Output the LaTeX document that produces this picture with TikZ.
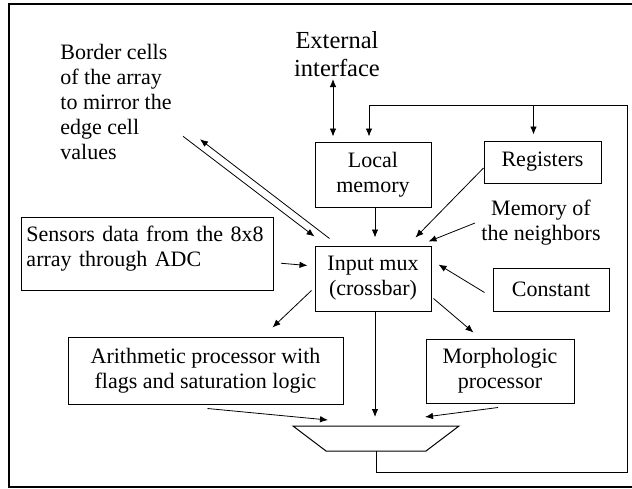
\documentclass[tikz,border=0pt]{standalone}
\usepackage{fontspec}
\setmainfont{Liberation Serif}
\usetikzlibrary{arrows.meta}
\tikzset{>={Latex[length=8pt,width=6.5pt]}}
\tikzset{blk/.style={draw, line width=1pt, align=center, inner sep=0pt}}
\tikzset{txt/.style={align=center, inner sep=0pt}}

\begin{document}
\begin{tikzpicture}[x=1pt, y=-1pt, line width=0.8pt, font=\fontsize{22}{25}\selectfont]
\useasboundingbox (0,0) rectangle (632,488);
\draw[line width=2pt] (632,4.3) -| (9,487) -- (632,487);

\node[txt, font=\fontsize{24.5}{28}\selectfont] (ext) at (337,54) {External\\interface};
\node[txt, align=left, anchor=north west] (brd) at (60,44) {Border cells\\of the array\\to mirror the\\edge cell\\values};
\node[txt] (mem) at (541,223) {Memory of\\the neighbors};

\node[blk, minimum width=116pt, minimum height=65pt] (lm) at (373,174.5) {Local\\memory};
\node[blk, minimum width=117pt, minimum height=42pt] (reg) at (542.5,162) {Registers};
\node[blk, minimum width=116pt, minimum height=65pt] (mux) at (373,278.5) {Input mux\\(crossbar)};
\node[blk, minimum width=116pt, minimum height=43pt] (cst) at (551,289.5) {Constant};
\node[blk, minimum width=148pt, minimum height=64pt] (morph) at (500,371) {Morphologic\\processor};
\node[blk, minimum width=275pt, minimum height=67pt] (arith) at (205.5,370.5) {Arithmetic processor with\\flags and saturation logic};
\node[blk, align=left, anchor=north west, text width=242pt, inner xsep=5pt, inner ysep=9pt, text depth=40pt] (sens) at (21,217) {Sensors data from the 8x8\\array through ADC};

% output mux
\coordinate (mxtop) at (376,426);
\coordinate (mxbot) at (376,451);
\draw[line width=1pt] ([xshift=-83pt]mxtop) -- ([xshift=83pt]mxtop) -- ([xshift=50pt]mxbot) -- ([xshift=-50pt]mxbot) -- cycle;

\draw[<->, shorten <=2pt, shorten >=5pt] ([xshift=-4pt]ext.south) -- ([xshift=-4pt]ext.south |- lm.north);
\draw[->, shorten >=8pt] ([xshift=2pt]lm.south) -- ([xshift=2pt]lm.south |- mux.north);
\draw[->] ([yshift=-6pt]reg.west) -- ([xshift=-16pt,yshift=8pt]mux.north east);
\draw[->] ([xshift=-6pt]mem.west) -- ([xshift=-3pt,yshift=4pt]mux.north east);
\draw[->] ([xshift=-8pt,yshift=-3pt]cst.west) -- ([xshift=7pt,yshift=14pt]mux.east);
\draw[->] ([xshift=7pt,yshift=-9pt]sens.east) -- ([xshift=-7pt,yshift=13pt]mux.west);
\draw[->] ([xshift=11pt,yshift=24pt]brd.south east) -- ([yshift=9pt]mux.north west);
\draw[->] ([xshift=15pt,yshift=7pt]mux.north west) -- ([xshift=28pt,yshift=21pt]brd.south east);

\draw[->] ([xshift=-3pt,yshift=-12pt]mux.west) -- ([xshift=-71pt,yshift=9pt]arith.north east);
\draw[->, shorten >=9pt] ([xshift=2pt]mux.south) -- ([xshift=2pt]mux.south |- mxtop);
\draw[->] ([xshift=2pt,yshift=-20pt]mux.east) -- ([xshift=48pt,yshift=6pt]morph.north west);
\draw[->] ([xshift=2pt,yshift=-4pt]arith.south) -- ([xshift=-48pt,yshift=6pt]mxtop);
\draw[->] ([xshift=-2pt,yshift=-4pt]morph.south) -- ([xshift=49pt,yshift=9pt]mxtop);

\coordinate (ret) at (627,472);
\draw[->, shorten >=5pt] (mxbot) |- (ret) |- ([xshift=-4pt,yshift=36pt]lm.north) coordinate (fbtop) -- ([xshift=-4pt]lm.north);
\draw[->, shorten >=6pt] ([xshift=-9pt]reg.north |- fbtop) -- ([xshift=-9pt]reg.north);
\end{tikzpicture}
\end{document}
